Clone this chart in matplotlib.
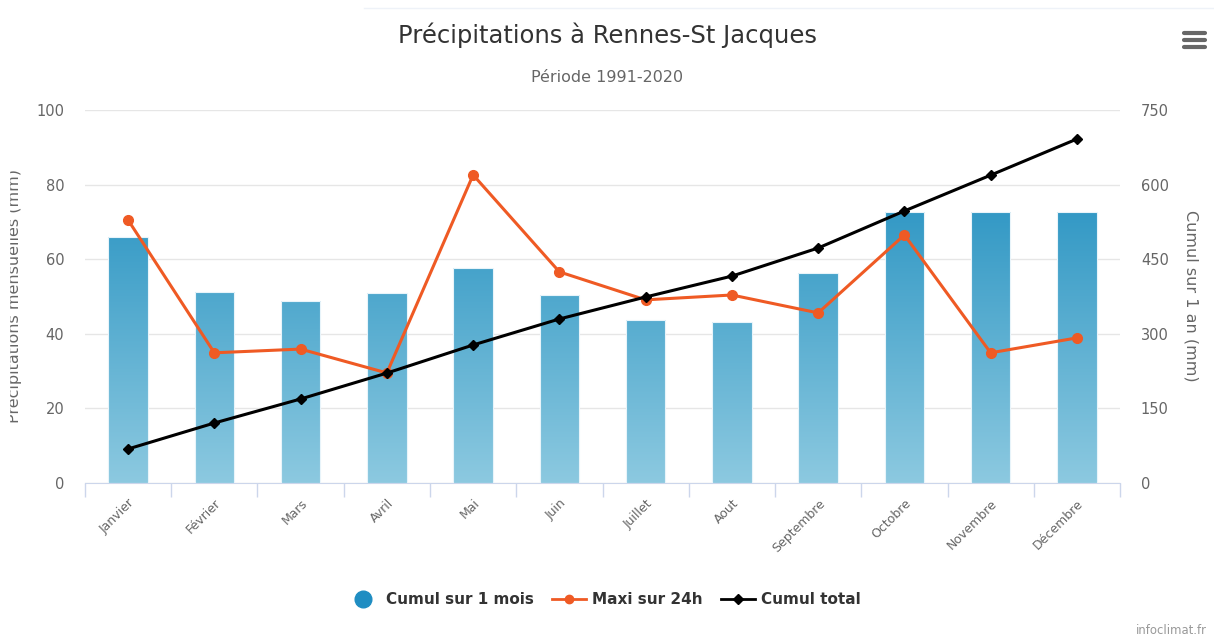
import numpy as np
import matplotlib
matplotlib.use('Agg')
import matplotlib.pyplot as plt
from matplotlib.lines import Line2D
from matplotlib.patches import Rectangle
from matplotlib.colors import LinearSegmentedColormap

months = ['Janvier', 'Février', 'Mars', 'Avril', 'Mai', 'Juin', 'Juillet',
          'Aout', 'Septembre', 'Octobre', 'Novembre', 'Décembre']
cumul_mois = [66.0, 51.2, 48.8, 50.9, 57.6, 50.4, 43.7, 43.2, 56.3, 72.7, 72.7, 72.7]
maxi_24h = [70.5, 34.9, 35.9, 29.5, 82.6, 56.6, 49.1, 50.4, 45.6, 66.5, 34.9, 38.9]
cumul_total = [68.4, 120.6, 168.9, 221.0, 277.5, 329.8, 374.0, 416.0, 472.5, 547.0, 619.0, 691.7]

plt.rcParams['font.family'] = ['DejaVu Sans']

fig = plt.figure(figsize=(12.14, 6.37), dpi=100)
ax = fig.add_axes([0.070, 0.2418, 0.8526, 0.5855])
ax2 = ax.twinx()

x = np.arange(len(months))

# bars with a vertical gradient over the plot height
grad = LinearSegmentedColormap.from_list('g', ['#8cc9e0', '#1287bb'])
bars = ax.bar(x, cumul_mois, width=0.46, color='none', edgecolor='#e8f4fa',
              lw=0.8, zorder=3)
img = np.linspace(0, 1, 256).reshape(-1, 1)
for b in bars:
    bx = b.get_x()
    im = ax.imshow(img, cmap=grad, origin='lower', aspect='auto',
                   extent=[bx, bx + b.get_width(), 0, 100], zorder=2)
    im.set_clip_path(b)
ax.set_xlim(-0.5, len(months) - 0.5)
ax.set_ylim(0, 100)
ax2.set_ylim(0, 750)

ax.plot(x, maxi_24h, color='#ef5a24', lw=2.2, marker='o', ms=7, zorder=4)
ax2.plot(x, cumul_total, color='#000000', lw=2.2, marker='D', ms=5.5, zorder=5)

ax.set_yticks(range(0, 101, 20))
ax2.set_yticks(range(0, 751, 150))
ax.yaxis.grid(True, color='#e6e6e6', lw=1)
ax.set_axisbelow(True)

for a in (ax, ax2):
    for s in a.spines.values():
        s.set_visible(False)
    a.tick_params(axis='y', length=0, labelsize=10.5, labelcolor='#666666', pad=15)
ax.spines['bottom'].set_visible(True)
ax.spines['bottom'].set_color('#ccd6eb')

ax.set_xticks(x)
ax.set_xticklabels(months, rotation=45, ha='right', rotation_mode='anchor',
                   fontsize=9, color='#666666')
ax.tick_params(axis='x', length=0, pad=10)
ax.set_xticks(np.arange(-0.5, len(months)), minor=True)
ax.tick_params(axis='x', which='minor', length=10, color='#ccd6eb', width=1)

fig.text(14 / 1214, 0.535, 'Précipitations mensuelles (mm)', rotation=90,
         ha='center', va='center', fontsize=11.5, color='#666666')
fig.add_artist(Rectangle((0, 0), 9 / 1214, 1, transform=fig.transFigure,
                         color='white', zorder=10))
fig.text(1191 / 1214, 0.535, 'Cumul sur 1 an (mm)', rotation=270,
         ha='center', va='center', fontsize=11.5, color='#666666')

fig.text(0.5, 1 - 35 / 637, 'Précipitations à Rennes-St Jacques',
         ha='center', va='center', fontsize=17.5, color='#333333')
fig.text(0.5, 1 - 77 / 637, 'Période 1991-2020',
         ha='center', va='center', fontsize=11.5, color='#666666')

# menu icon
for yy in (33, 40, 47):
    fig.add_artist(Line2D([1184 / 1214, 1205 / 1214], [1 - yy / 637] * 2,
                          color='#666666', lw=3, solid_capstyle='round'))
fig.add_artist(Line2D([0.3, 1.0], [1 - 8 / 637] * 2, color='#eef2f8', lw=1))

handles = [
    Line2D([], [], ls='none', marker='o', ms=12, color='#1f8dc2'),
    Line2D([], [], color='#ef5a24', lw=2, marker='o', ms=6),
    Line2D([], [], color='#000000', lw=2, marker='D', ms=5),
]
leg = fig.legend(handles, ['Cumul sur 1 mois', 'Maxi sur 24h', 'Cumul total'],
                 loc='center', bbox_to_anchor=(0.497, 1 - 600 / 637), ncol=3,
                 frameon=False, handlelength=2.2, columnspacing=1.2,
                 handletextpad=0.4, prop={'weight': 'bold', 'size': 11})
for t in leg.get_texts():
    t.set_color('#333333')

fig.text(1207 / 1214, 1 - 630 / 637, 'infoclimat.fr', ha='right', va='center',
         fontsize=8.4, color='#999999')

fig.savefig('out.png', dpi=100)
